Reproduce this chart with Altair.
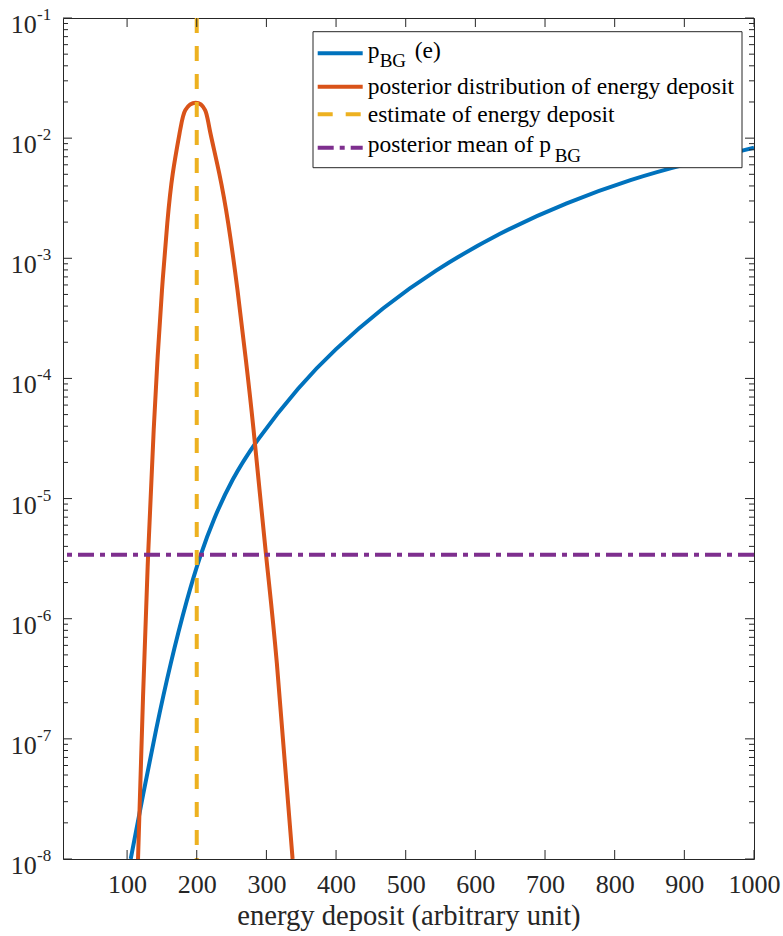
import altair as alt
import pandas as pd

# ---------------- data ----------------
blue_x = [105.2, 122.85, 141.5, 162.2, 186.6, 205.1, 223.8, 250.6, 284.2, 348.2,
          396.0, 467.8, 539.6, 635.4, 731.1, 826.7, 898.5, 1000]
blue_y = [1.0e-8, 3.42e-8, 1.205e-7, 4.27e-7, 1.513e-6, 3.391e-6, 6.69e-6, 1.453e-5,
          2.99e-5, 8.78e-5, 1.704e-4, 3.93e-4, 7.83e-4, 1.645e-3, 2.928e-3,
          4.614e-3, 6.02e-3, 8.31e-3]

red_x = [115.7, 122.9, 130.2, 138.2, 143.9, 150.1, 157.7, 165.6, 176.2, 183.7, 198.5,
         212.0, 218.7, 232.3, 245.2, 258.5, 270.0, 281.6, 299.5, 315.0, 337.6]
red_y = [1.0e-8, 2.24e-7, 3.39e-6, 3.72e-5, 1.517e-4, 5.44e-4, 1.954e-3, 5.09e-3,
         1.169e-2, 1.714e-2, 1.97e-2, 1.714e-2, 1.169e-2, 5.09e-3, 1.954e-3, 5.44e-4,
         1.517e-4, 3.72e-5, 3.39e-6, 4.26e-7, 1.0e-8]

estimate_e = [200]
posterior_mean = [3.4e-6]

x_ticks = [100, 200, 300, 400, 500, 600, 700, 800, 900, 1000]
y_major = [1e-8, 1e-7, 1e-6, 1e-5, 1e-4, 1e-3, 1e-2, 1e-1]
y_exponents = ["-8", "-7", "-6", "-5", "-4", "-3", "-2", "-1"]
y_minor = [m * 10.0 ** e for e in range(-8, -1) for m in range(2, 10)]

legend_labels = ["posterior distribution of energy deposit", "estimate of energy deposit"]

BLUE, RED, YELLOW, PURPLE = "#0072BD", "#D95319", "#EDB120", "#7E2F8E"
AX = "#262626"
FONT = "Liberation Serif"
LW = 4

W, H = 691, 841

xs = alt.Scale(domain=[8, 1000], nice=False, zero=False)
ys = alt.Scale(type="log", domain=[1e-8, 1e-1], nice=False)

x_axis = alt.Axis(values=x_ticks, format="d", ticks=False, domain=False, grid=False,
                  labelFont=FONT, labelFontSize=26, labelColor=AX, labelPadding=12,
                  labelFlush=False, labelOverlap=False,
                  titleFont=FONT, titleFontSize=28.6, titleFontWeight="normal",
                  titleColor=AX, titlePadding=4)
X = alt.X("e:Q", scale=xs, axis=x_axis, title="energy deposit (arbitrary unit)")
Y = alt.Y("p:Q", scale=ys, axis=None)

blue_df = pd.DataFrame({"e": blue_x, "p": blue_y})
red_df = pd.DataFrame({"e": red_x, "p": red_y})

layers = []
layers.append(alt.Chart(blue_df).mark_line(color=BLUE, strokeWidth=LW, clip=True,
                                           interpolate="basis").encode(x=X, y=Y))
layers.append(alt.Chart(red_df).mark_line(color=RED, strokeWidth=LW, clip=True,
                                          interpolate="natural").encode(x=X, y=Y))
layers.append(alt.Chart(pd.DataFrame({"e": estimate_e})).mark_rule(
    color=YELLOW, strokeWidth=LW, strokeDash=[15, 13]).encode(x=X))
layers.append(alt.Chart(pd.DataFrame({"p": posterior_mean})).mark_rule(
    color=PURPLE, strokeWidth=LW, strokeDash=[16, 6, 5, 6]).encode(y=Y))

# inward ticks (MATLAB box style)
xt = pd.DataFrame({"e": x_ticks})
layers.append(alt.Chart(xt).mark_rule(color=AX, strokeWidth=1).encode(
    x=X, y=alt.value(H), y2=alt.value(H - 9)))
layers.append(alt.Chart(xt).mark_rule(color=AX, strokeWidth=1).encode(
    x=X, y=alt.value(0), y2=alt.value(9)))
ymj = pd.DataFrame({"p": y_major, "exp": y_exponents})
ymn = pd.DataFrame({"p": y_minor})
layers.append(alt.Chart(ymj).mark_rule(color=AX, strokeWidth=1).encode(
    y=Y, x=alt.value(0), x2=alt.value(9)))
layers.append(alt.Chart(ymj).mark_rule(color=AX, strokeWidth=1).encode(
    y=Y, x=alt.value(W), x2=alt.value(W - 9)))
layers.append(alt.Chart(ymn).mark_rule(color=AX, strokeWidth=1).encode(
    y=Y, x=alt.value(0), x2=alt.value(5)))
layers.append(alt.Chart(ymn).mark_rule(color=AX, strokeWidth=1).encode(
    y=Y, x=alt.value(W), x2=alt.value(W - 5)))

# y tick labels 10^k
layers.append(alt.Chart(ymj).mark_text(align="right", baseline="alphabetic", dy=15,
                                       fontSize=26, font=FONT, color=AX).encode(
    y=Y, x=alt.value(-26.3), text=alt.value("10")))
layers.append(alt.Chart(ymj).mark_text(align="left", baseline="alphabetic", dy=2,
                                       fontSize=17, font=FONT, color=AX).encode(
    y=Y, x=alt.value(-26), text="exp:N"))

# legend
one = pd.DataFrame({"k": [0]})
layers.append(alt.Chart(one).mark_rect(fill="white", stroke=AX, strokeWidth=1).encode(
    x=alt.value(250), x2=alt.value(679), y=alt.value(13.7), y2=alt.value(149.7)))

samples = [(BLUE, None, 35.3), (RED, None, 68.7), (YELLOW, [15, 13], 96.3),
           (PURPLE, [16, 6, 5, 6], 129.7)]
for col, dash, yy in samples:
    kw = dict(color=col, strokeWidth=LW)
    if dash:
        kw["strokeDash"] = dash
    layers.append(alt.Chart(one).mark_rule(**kw).encode(
        x=alt.value(254.7), x2=alt.value(299.7), y=alt.value(yy)))

def txt(s, x, y, size=23.5):
    return alt.Chart(one).mark_text(align="left", baseline="alphabetic", fontSize=size,
                                    font=FONT, color="black").encode(
        x=alt.value(x), y=alt.value(y), text=alt.value(s))

layers.append(txt("p", 304.7, 40))
layers.append(txt("BG", 316.7, 48.7, 19))
layers.append(txt("(e)", 351.7, 40))
layers.append(txt(legend_labels[0], 304.7, 76))
layers.append(txt(legend_labels[1], 304.7, 104))
layers.append(txt("posterior mean of p", 304.7, 133.7))
layers.append(txt("BG", 491.7, 143.7, 19))

chart = alt.layer(*layers).properties(
    width=W, height=H,
    autosize=alt.AutoSizeParams(type="none"),
    padding={"left": 63, "top": 18, "right": 29, "bottom": 77},
    background="white",
).configure_view(stroke=AX, strokeWidth=1)

chart.save("out.html", embed_options={"renderer": "svg", "actions": False})
